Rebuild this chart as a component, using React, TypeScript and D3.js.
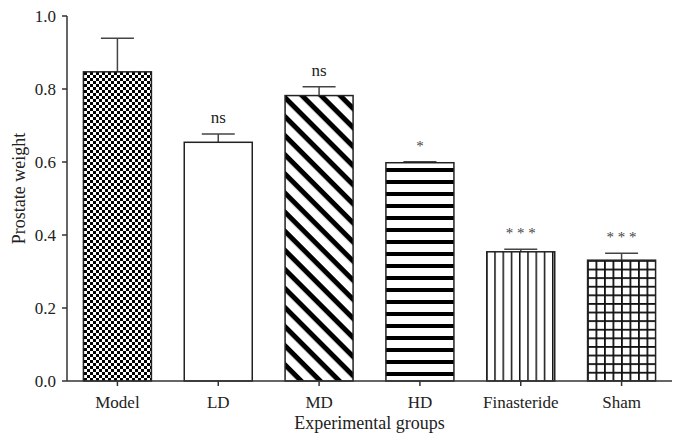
import React from "react";
import * as d3 from "d3";

const categories = ["Model", "LD", "MD", "HD", "Finasteride", "Sham"];
const means = [0.847, 0.654, 0.782, 0.598, 0.354, 0.331];
const errors = [0.092, 0.023, 0.024, 0.003, 0.007, 0.019];
const significance = ["", "ns", "ns", "*", "* * *", "* * *"];
const yTicks = [0.0, 0.2, 0.4, 0.6, 0.8, 1.0];
const patterns = ["checker", "none", "diag", "hstripe", "vline", "grid"];

const W = 683;
const H = 442;
const left = 67;
const right = 672;
const top = 16;
const bottom = 381;
const barW = 68;
const capW = 33;
const font = "'Liberation Serif', 'Times New Roman', serif";

export default function App() {
  const x = d3.scalePoint<string>().domain(categories).range([left, right]).padding(0.5);
  const y = d3.scaleLinear().domain([0, 1]).range([bottom, top]);

  const fillFor = (p: string) => (p === "none" ? "#fff" : `url(#p-${p})`);

  return (
    <svg width={W} height={H} style={{ position: "absolute", left: 0, top: 0, background: "#fff" }}>
      <defs>
        <pattern id="p-checker" width={6} height={6} patternUnits="userSpaceOnUse">
          <rect width={6} height={6} fill="#fff" />
          <rect x={0} y={0} width={3} height={3} fill="#000" />
          <rect x={3} y={3} width={3} height={3} fill="#000" />
        </pattern>
        <pattern id="p-diag" width={13.5} height={13.5} patternUnits="userSpaceOnUse" patternTransform="rotate(45)">
          <rect width={13.5} height={13.5} fill="#fff" />
          <rect x={0} y={0} width={13.5} height={5} fill="#000" />
        </pattern>
        <pattern id="p-hstripe" width={12} height={12} patternUnits="userSpaceOnUse">
          <rect width={12} height={12} fill="#fff" />
          <rect x={0} y={0} width={12} height={4} fill="#000" />
        </pattern>
        <pattern id="p-vline" width={8.25} height={10} patternUnits="userSpaceOnUse" x={486}>
          <rect width={8.25} height={10} fill="#fff" />
          <rect x={0} y={0} width={1.5} height={10} fill="#111" />
        </pattern>
        <pattern id="p-grid" width={8.5} height={8.6} patternUnits="userSpaceOnUse" x={587} y={260}>
          <rect width={8.5} height={8.6} fill="#fff" />
          <rect x={0} y={0} width={1.8} height={8.6} fill="#111" />
          <rect x={0} y={0} width={8.5} height={1.8} fill="#111" />
        </pattern>
      </defs>

      {/* bars */}
      {categories.map((c, i) => {
        const cx = x(c)!;
        const yTop = y(means[i]);
        const yErr = y(means[i] + errors[i]);
        return (
          <g key={c}>
            <line x1={cx} x2={cx} y1={yTop} y2={yErr} stroke="#444" strokeWidth={1.5} />
            <line x1={cx - capW / 2} x2={cx + capW / 2} y1={yErr} y2={yErr} stroke="#444" strokeWidth={1.5} />
            <rect
              x={cx - barW / 2}
              y={yTop}
              width={barW}
              height={bottom - yTop}
              fill={fillFor(patterns[i])}
              stroke="#222"
              strokeWidth={1.5}
            />
            {significance[i] && (
              <text
                x={cx}
                y={yErr - 11}
                textAnchor="middle"
                fontFamily={font}
                fontSize={significance[i].includes("*") ? 15 : 17}
                fill={significance[i].includes("*") ? "#444" : "#222"}
              >
                {significance[i]}
              </text>
            )}
          </g>
        );
      })}

      {/* y axis */}
      <line x1={left} x2={left} y1={top} y2={bottom} stroke="#333" strokeWidth={1.5} />
      {yTicks.map((t) => (
        <g key={t}>
          <line x1={left - 5} x2={left} y1={y(t)} y2={y(t)} stroke="#333" strokeWidth={1.5} />
          <text
            x={left - 11}
            y={y(t)}
            dy="0.35em"
            textAnchor="end"
            fontFamily={font}
            fontSize={17}
            fill="#222"
          >
            {t.toFixed(1)}
          </text>
        </g>
      ))}
      <text
        transform={`translate(19, ${(top + bottom) / 2 - 10}) rotate(-90)`}
        textAnchor="middle"
        dy="0.35em"
        fontFamily={font}
        fontSize={18}
        fill="#222"
      >
        Prostate weight
      </text>

      {/* x axis */}
      <line x1={left} x2={right} y1={bottom} y2={bottom} stroke="#333" strokeWidth={1.5} />
      {categories.map((c) => (
        <g key={c}>
          <line x1={x(c)!} x2={x(c)!} y1={bottom} y2={bottom + 5} stroke="#333" strokeWidth={1.5} />
          <text
            x={x(c)!}
            y={402}
            dy="0.35em"
            textAnchor="middle"
            fontFamily={font}
            fontSize={17}
            fill="#222"
          >
            {c}
          </text>
        </g>
      ))}
      <text
        x={(left + right) / 2}
        y={423}
        dy="0.35em"
        textAnchor="middle"
        fontFamily={font}
        fontSize={18}
        fill="#222"
      >
        Experimental groups
      </text>
    </svg>
  );
}
